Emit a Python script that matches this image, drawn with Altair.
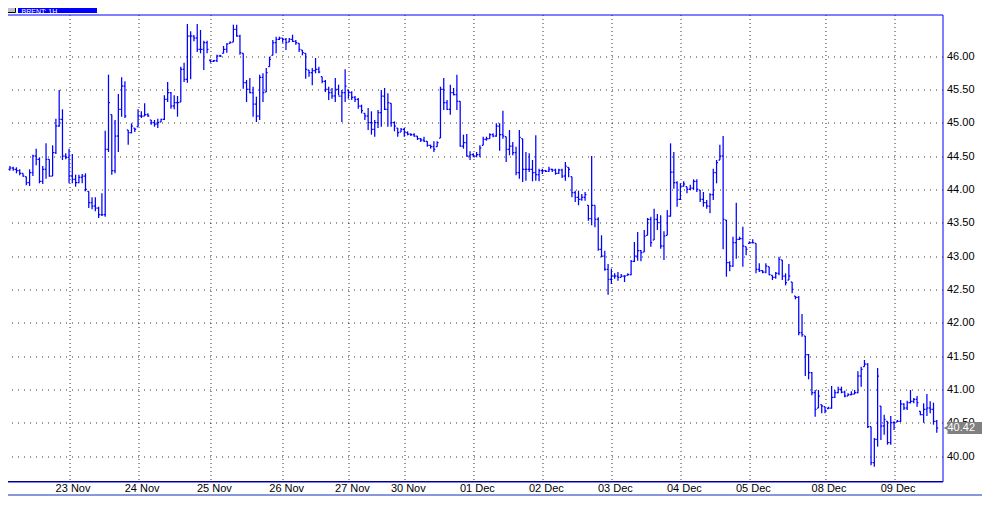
import altair as alt
import pandas as pd
import numpy as np

# ---------------- data (hourly OHLC) ----------------
high = [
    44.35,44.34,44.35,44.34,44.33,44.30,44.24,44.19,44.30,44.52,44.61,44.48,44.35,44.69,44.45,44.66,45.06,45.49,45.20,44.54,
    44.61,44.53,44.22,44.22,44.23,44.24,43.97,43.88,43.88,43.74,43.94,44.88,45.72,45.12,45.04,45.43,45.68,45.62,44.89,44.99,44.92,
    45.20,45.17,45.29,45.14,45.04,45.04,45.06,45.06,45.41,45.61,45.46,45.41,45.40,45.84,45.90,46.48,46.37,46.31,46.48,46.39,46.23,46.23,
    45.94,45.94,46.02,46.02,46.15,46.19,46.22,46.47,46.47,46.32,46.04,45.64,45.67,45.54,45.39,45.72,45.74,45.82,45.99,46.24,46.29,46.29,
    46.27,46.27,46.27,46.32,46.24,46.19,46.09,46.04,45.79,45.82,45.97,45.84,45.69,45.64,45.54,45.52,45.67,45.57,45.49,45.80,
    45.49,45.47,45.40,45.37,45.27,45.14,45.22,45.17,45.04,45.19,45.49,45.52,45.44,45.29,45.02,44.92,44.92,
    44.92,44.87,44.84,44.84,44.80,44.77,44.79,44.72,44.67,44.72,44.72,45.54,45.67,45.34,45.57,45.52,45.72,45.32,44.82,44.83,44.57,
    44.54,44.56,44.66,44.79,44.79,44.84,44.84,44.99,44.99,45.18,44.79,44.89,44.71,44.64,44.89,44.76,44.56,44.54,44.44,44.81,44.31,
    44.31,44.29,44.34,44.31,44.31,44.31,44.31,44.41,44.33,44.19,43.98,43.98,43.93,43.96,43.76,44.50,43.76,43.58,43.31,43.08,42.88,
    42.81,42.74,42.76,42.73,42.71,42.74,42.94,43.21,43.36,43.09,43.39,43.57,43.59,43.71,43.63,43.61,43.37,43.69,44.69,44.56,44.12,
    44.09,44.12,44.04,44.07,44.15,44.15,43.99,43.96,43.84,43.94,44.31,44.44,44.67,44.80,43.54,42.92,43.29,43.80,43.29,43.44,43.14,
    43.22,43.25,43.19,42.89,42.79,42.89,42.84,42.71,42.76,42.99,42.94,42.74,42.88,42.61,42.40,42.40,42.13,41.80,41.53,41.26,40.99,40.99,40.77,
    40.74,40.74,41.05,40.99,41.04,41.04,40.98,40.94,40.97,40.99,41.27,41.34,41.44,41.39,40.44,40.27,41.32,40.75,40.62,40.52,40.60,
    40.52,40.54,40.84,40.79,40.83,40.99,40.87,40.90,40.67,40.79,40.93,40.82,40.80,40.54,
]
low = [
    44.25,44.25,44.28,44.28,44.24,44.21,44.19,44.06,44.05,44.20,44.36,44.09,44.08,44.16,44.19,44.20,44.53,44.94,44.44,44.45,
    44.09,44.09,44.04,44.09,44.09,43.97,43.72,43.70,43.67,43.57,43.60,43.59,44.56,44.22,44.24,44.56,45.09,45.07,44.67,44.84,44.86,
    44.94,45.07,45.10,45.09,44.97,44.94,44.92,45.01,45.04,45.31,45.21,45.20,45.09,45.31,45.61,45.60,45.65,46.22,46.06,46.04,45.79,46.04,
    45.90,45.91,45.91,45.99,46.04,46.05,46.19,46.21,46.29,46.02,45.51,45.31,45.44,45.09,45.01,45.04,45.31,45.46,45.84,46.01,46.04,46.24,
    46.20,46.09,46.21,46.21,46.17,46.06,46.01,45.66,45.69,45.56,45.74,45.74,45.59,45.46,45.34,45.36,45.31,45.41,45.01,45.31,
    45.36,45.34,45.31,45.21,45.14,45.04,44.89,44.82,44.79,44.92,44.94,45.19,44.94,44.94,44.87,44.79,44.86,
    44.79,44.81,44.80,44.79,44.74,44.71,44.71,44.64,44.61,44.56,44.64,44.77,45.19,45.19,45.12,45.41,45.19,44.64,44.61,44.49,44.44,
    44.48,44.48,44.48,44.66,44.73,44.76,44.78,44.79,44.58,44.76,44.41,44.51,44.51,44.21,44.16,44.11,44.13,44.26,44.12,44.13,44.12,
    44.23,44.26,44.26,44.26,44.22,44.23,44.17,44.13,44.18,43.88,43.81,43.76,43.83,43.83,43.53,43.46,43.43,43.08,42.98,42.78,42.42,
    42.58,42.66,42.63,42.68,42.61,42.71,42.71,42.91,42.93,42.92,43.06,43.31,43.14,43.24,43.39,43.11,42.94,43.31,43.59,44.01,43.74,
    43.84,44.04,43.94,43.99,43.99,43.96,43.81,43.74,43.71,43.64,43.84,44.09,44.44,43.10,42.69,42.77,42.84,42.96,43.24,42.84,43.01,
    43.19,43.19,42.74,42.76,42.74,42.74,42.71,42.64,42.66,42.71,42.64,42.56,42.64,42.44,42.35,41.81,41.79,41.20,41.15,40.91,40.59,40.72,40.64,
    40.64,40.71,40.71,40.87,40.94,40.94,40.88,40.90,40.91,40.93,40.94,41.04,41.34,40.42,39.86,39.84,40.14,40.24,40.32,40.17,40.17,
    40.39,40.51,40.51,40.69,40.69,40.79,40.79,40.74,40.61,40.50,40.60,40.64,40.47,40.35,
]
close = [
    44.30,44.30,44.32,44.30,44.28,44.24,44.20,44.10,44.25,44.50,44.45,44.12,44.30,44.45,44.20,44.55,44.95,45.05,44.50,44.48,
    44.20,44.15,44.10,44.18,44.20,44.00,43.80,43.75,43.72,43.62,43.62,44.60,45.30,44.28,44.80,45.20,45.55,45.10,44.85,44.95,44.90,
    45.10,45.10,45.12,45.10,45.00,44.98,45.00,45.05,45.35,45.45,45.25,45.30,45.30,45.80,45.65,46.30,46.30,46.27,46.10,46.10,46.20,46.10,
    45.92,45.93,46.00,46.00,46.10,46.18,46.20,46.40,46.30,46.05,45.60,45.50,45.45,45.28,45.10,45.68,45.45,45.75,45.95,46.20,46.25,46.27,
    46.25,46.20,46.25,46.22,46.20,46.10,46.05,45.80,45.75,45.78,45.80,45.76,45.62,45.50,45.45,45.40,45.50,45.40,45.45,45.55,
    45.45,45.38,45.35,45.25,45.18,45.10,45.00,44.90,45.00,45.15,45.40,45.20,45.30,45.00,44.95,44.85,44.90,
    44.85,44.83,44.82,44.80,44.76,44.74,44.72,44.66,44.64,44.60,44.70,45.50,45.30,45.20,45.45,45.42,45.32,44.65,44.70,44.50,44.52,
    44.50,44.52,44.62,44.75,44.76,44.82,44.80,44.95,44.82,44.80,44.60,44.65,44.55,44.25,44.78,44.30,44.30,44.30,44.25,44.22,44.28,
    44.28,44.27,44.30,44.29,44.24,44.29,44.20,44.35,44.30,43.95,43.88,43.85,43.88,43.92,43.56,43.76,43.55,43.10,43.00,42.80,42.65,
    42.70,42.70,42.68,42.70,42.70,42.72,42.92,43.00,43.08,43.05,43.30,43.55,43.20,43.55,43.50,43.15,43.30,43.60,44.26,44.10,43.85,
    44.05,44.08,44.00,44.02,44.12,44.00,43.85,43.80,43.75,43.92,44.25,44.40,44.50,43.55,42.90,42.85,43.20,43.25,43.26,43.15,43.10,
    43.20,43.20,42.80,42.78,42.76,42.85,42.72,42.68,42.74,42.95,42.70,42.60,42.70,42.50,42.38,41.85,41.82,41.52,41.25,40.95,40.70,40.90,40.75,
    40.68,40.72,40.88,40.95,41.00,40.96,40.90,40.92,40.93,40.95,41.20,41.30,41.38,40.44,39.90,40.25,41.20,40.45,40.55,40.20,40.50,
    40.50,40.52,40.78,40.72,40.80,40.82,40.85,40.80,40.62,40.70,40.72,40.70,40.52,40.42,
]
day_sizes = [20, 21, 22, 22, 20, 17, 21, 21, 21, 21, 21, 23, 21, 14]
day_labels = ["", "23 Nov", "24 Nov", "25 Nov", "26 Nov", "27 Nov", "30 Nov",
              "01 Dec", "02 Dec", "03 Dec", "04 Dec", "05 Dec", "08 Dec", "09 Dec"]
y_ticks = [40.0, 40.5, 41.0, 41.5, 42.0, 42.5, 43.0, 43.5, 44.0, 44.5, 45.0, 45.5, 46.0]
symbol = "BRENT: 1H"

assert len(high) == len(low) == len(close) == sum(day_sizes)

# ---------------- tables ----------------
n = len(close)
df = pd.DataFrame({"i": np.arange(n), "high": high, "low": low, "close": close})
prev = df["close"].shift(1).fillna(df["close"].iloc[0])
df["open"] = np.minimum(np.maximum(prev, df["low"]), df["high"])
df["i_l"] = df["i"] - 0.42
df["i_r"] = df["i"] + 0.42

starts = [int(v) for v in np.cumsum(day_sizes)[:-1]]
ticks_df = pd.DataFrame({"i": starts, "label": day_labels[1:]})
last_df = df.iloc[[-1]].copy()
last_df["txt"] = last_df["close"].map(lambda v: f"{v:.2f}")
hdr_df = pd.DataFrame({"t": [symbol]})

W, H = 941, 467
BLUE = "#0000ff"
FONT = "Liberation Sans"
xs = alt.Scale(domain=[-0.55, 285.74], nice=False, zero=False)
ys = alt.Scale(domain=[39.6175, 46.6225], nice=False, zero=False)

ax_x = alt.Axis(values=starts, grid=True, gridDash=[1, 3], gridColor="#303030",
                gridOpacity=1, labels=False, ticks=False, domain=False, title=None)
ax_y = alt.Axis(orient="right", values=y_ticks, format=".2f", grid=True,
                gridDash=[1, 5], gridColor="#303030", gridOpacity=1, ticks=False,
                domain=False, labelPadding=4, labelFont=FONT, labelFontSize=11,
                labelColor="#000000", title=None)

SW = 1.25
base = alt.Chart(df)
hl = base.mark_rule(color=BLUE, strokeWidth=SW).encode(
    x=alt.X("i:Q", scale=xs, axis=ax_x, title=None),
    y=alt.Y("low:Q", scale=ys, axis=ax_y, title=None),
    y2="high:Q",
)
op = base.mark_rule(color=BLUE, strokeWidth=SW).encode(
    x=alt.X("i_l:Q", scale=xs, axis=ax_x, title=None), x2="i:Q",
    y=alt.Y("open:Q", scale=ys, axis=ax_y, title=None))
cl = base.mark_rule(color=BLUE, strokeWidth=SW).encode(
    x=alt.X("i:Q", scale=xs, axis=ax_x, title=None), x2="i_r:Q",
    y=alt.Y("close:Q", scale=ys, axis=ax_y, title=None))

lbl = alt.Chart(ticks_df).mark_text(
    font=FONT, fontSize=11, color="#000000", baseline="alphabetic", align="center", dx=4
).encode(x=alt.X("i:Q", scale=xs, axis=ax_x, title=None), y=alt.value(H + 10.5),
         text="label:N")

# frame pieces
bottom_line = alt.Chart(hdr_df).mark_rule(color="#000080", strokeWidth=1).encode(
    x=alt.value(0), x2=alt.value(W), y=alt.value(H))
sep_line = alt.Chart(hdr_df).mark_rule(color="#1030b0", strokeWidth=1).encode(
    x=alt.value(-8), x2=alt.value(W + 48), y=alt.value(H + 13.5))

# header
hdr_icon = alt.Chart(hdr_df).mark_rect(color="#c0c0c0", stroke="#000000", strokeWidth=1).encode(
    x=alt.value(-1), x2=alt.value(14), y=alt.value(-14), y2=alt.value(-2))
hdr_bar = alt.Chart(hdr_df).mark_rect(color=BLUE).encode(
    x=alt.value(16.5), x2=alt.value(95.5), y=alt.value(-14.5), y2=alt.value(-1.5))
hdr_txt = alt.Chart(hdr_df).mark_text(
    font=FONT, fontSize=7, color="#ffffff", align="left", baseline="alphabetic"
).encode(x=alt.value(20), y=alt.value(-1), text="t:N")

# last price marker
mk_box = alt.Chart(last_df).mark_rule(color="#808080", strokeWidth=12).encode(
    x=alt.value(W + 5), x2=alt.value(W + 45),
    y=alt.Y("close:Q", scale=ys, axis=ax_y, title=None))
mk_tri = alt.Chart(last_df).mark_point(
    shape="M 1 -1 L 1 1 L -1 0 Z", filled=True, color="#808080", opacity=1, size=36
).encode(x=alt.value(W + 4), y=alt.Y("close:Q", scale=ys, axis=ax_y, title=None))
mk_txt = alt.Chart(last_df).mark_text(
    font=FONT, fontSize=11, color="#ffffff", align="left", baseline="middle"
).encode(x=alt.value(W + 5), y=alt.Y("close:Q", scale=ys, axis=ax_y, title=None),
         text="txt:N")

chart = alt.layer(
    hl, op, cl, lbl, bottom_line, sep_line,
    hdr_icon, hdr_bar, hdr_txt, mk_box, mk_tri, mk_txt
).properties(
    width=W, height=H,
    padding={"left": -6.5, "top": 6.5, "right": 39.5, "bottom": 14.5},
    autosize=alt.AutoSizeParams(type="none"),
    background="#ffffff",
).configure_view(stroke=BLUE, strokeWidth=1)

chart.save("out.html", embed_options={"renderer": "svg", "actions": False})
